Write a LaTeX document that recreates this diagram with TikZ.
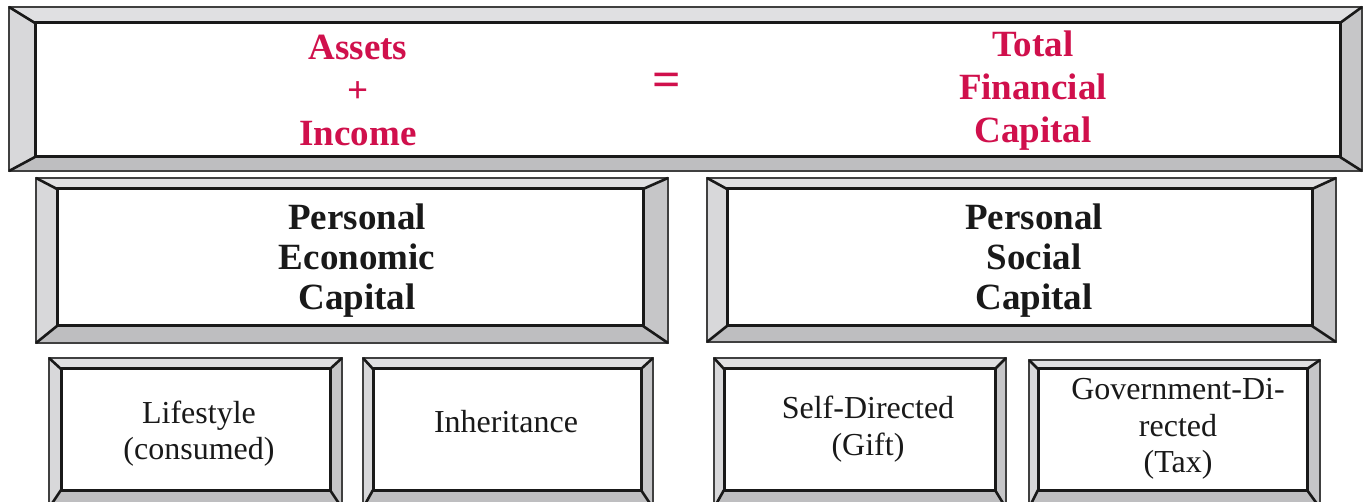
\documentclass[tikz,border=0pt]{standalone}
\usepackage{fontspec}
\setmainfont{Liberation Serif}
\definecolor{crim}{RGB}{208,16,76}
\definecolor{bevT}{RGB}{224,224,226}
\definecolor{bevL}{RGB}{216,216,218}
\definecolor{bevB}{RGB}{190,190,192}
\definecolor{bevR}{RGB}{198,198,200}
\tikzset{
  bevout/.style={draw=black!75,line width=1.2pt},
  bevin/.style={draw=black!90,line width=3pt},
  bevdiag/.style={draw=black!90,line width=2.6pt},
  bigtxt/.style={font=\bfseries\fontsize{37}{43}\selectfont,text=crim,align=center,inner sep=0pt},
  midtxt/.style={font=\bfseries\fontsize{37}{40}\selectfont,text=black!90,align=center,inner sep=0pt},
  smalltxt/.style={font=\fontsize{32}{36.5}\selectfont,text=black!90,align=center,inner sep=0pt},
}
\newcommand\bevbox[8]{%
  \fill[bevT] (#1,#2) -- (#3,#2) -- (#7,#6) -- (#5,#6) -- cycle;
  \fill[bevL] (#1,#2) -- (#5,#6) -- (#5,#8) -- (#1,#4) -- cycle;
  \fill[bevB] (#1,#4) -- (#5,#8) -- (#7,#8) -- (#3,#4) -- cycle;
  \fill[bevR] (#3,#2) -- (#3,#4) -- (#7,#8) -- (#7,#6) -- cycle;
  \fill[white] (#5,#6) rectangle (#7,#8);
  \draw[bevout] (#1,#2) rectangle (#3,#4);
  \draw[bevdiag] (#1,#2) -- (#5,#6) (#3,#2) -- (#7,#6) (#1,#4) -- (#5,#8) (#3,#4) -- (#7,#8);
  \draw[bevin] (#5,#6) rectangle (#7,#8);
}
\begin{document}
\begin{tikzpicture}[x=1pt,y=-1pt]
\useasboundingbox (0,0) rectangle (1366,502);
\begin{scope}
\clip (0,0) rectangle (1366,502);
\bevbox{9}{7}{1362}{171}{35}{23}{1340}{157}
\bevbox{36}{178}{668}{343}{57}{189}{643}{326}
\bevbox{707}{178}{1336}{342}{727}{189}{1312}{326}
\bevbox{49}{358}{342}{508}{61}{369}{330}{490}
\bevbox{363}{358}{653}{508}{373}{369}{641}{490}
\bevbox{714}{358}{1006}{508}{724}{369}{995}{490}
\bevbox{1029}{360}{1320}{508}{1038}{369}{1307}{490}
\end{scope}
\node[bigtxt] (assets) at (358,90) {Assets\\+\\Income};
\node[bigtxt,font=\bfseries\fontsize{50}{50}\selectfont] (eq) at (667,85) {=};
\node[bigtxt] (total) at (1033,91) {Total\\Financial\\Capital};
\node[midtxt] (pec) at (357,261) {Personal\\Economic\\Capital};
\node[midtxt] (psc) at (1034,261) {Personal\\Social\\Capital};
\node[smalltxt] (life) at (199,433.5) {Lifestyle\\(consumed)};
\node[smalltxt] (inh) at (506,422) {Inheritance};
\node[smalltxt] (self) at (868,429) {Self-Directed\\(Gift)};
\node[smalltxt] (gov) at (1178,429) {Government-Di-\\rected\\(Tax)};
\end{tikzpicture}
\end{document}
